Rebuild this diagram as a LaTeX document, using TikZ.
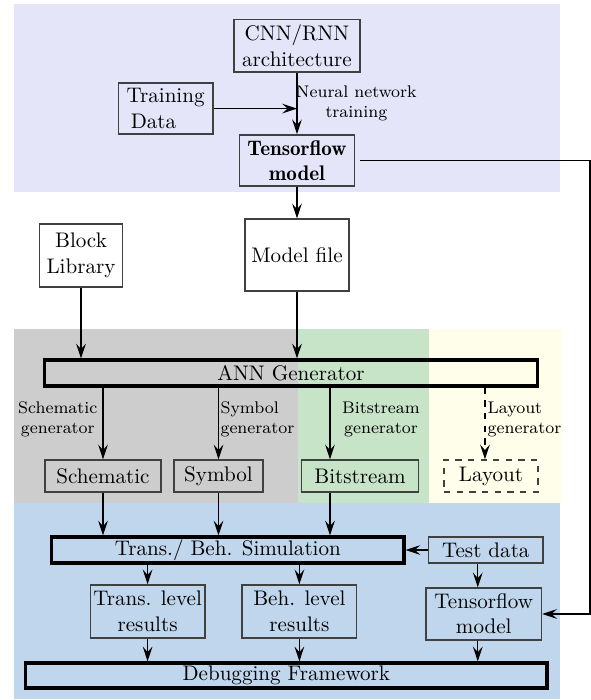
\documentclass[tikz,border=0pt]{standalone}
\usepackage{amsmath, amssymb}
\usepackage{tikz}
\usetikzlibrary{arrows.meta}

\definecolor{toplavender}{RGB}{229,229,250}
\definecolor{gengray}{RGB}{205,205,205}
\definecolor{bitgreen}{RGB}{200,228,200}
\definecolor{layyellow}{RGB}{254,254,234}
\definecolor{simblue}{RGB}{192,214,236}

\tikzset{
    box/.style={draw=black!75, line width=0.6pt, align=center, inner sep=1pt},
    thickbox/.style={draw=black, line width=1.5pt, inner sep=0pt},
    glabel/.style={font=\footnotesize, inner sep=0pt},
    flow/.style={-{Stealth[length=7pt,width=4.6pt,inset=2.6pt]}, line width=0.6pt},
}

\begin{document}
\begin{tikzpicture}
                \useasboundingbox (0,0) rectangle (9.85,-11.667);

                % Background regions
                \fill[toplavender] (0.233,-0.067) rectangle (9.333,-3.2);
                \fill[gengray] (0.233,-5.483) rectangle (4.967,-8.383);
                \fill[bitgreen] (4.967,-5.483) rectangle (7.15,-8.383);
                \fill[layyellow] (7.15,-5.483) rectangle (9.367,-8.383);
                \fill[simblue] (0.233,-8.383) rectangle (9.333,-11.65);

                % Training
                \node[box, minimum width=2.1cm, minimum height=0.88cm] (cnn) at (4.95, -0.76) {CNN/RNN\\architecture};
                \node[box, align=left, minimum width=1.58cm, minimum height=0.85cm] (data) at (2.76, -1.81) {Training\\\hspace{2pt}Data};
                \node[box, font=\fontseries{b}\selectfont, line width=0.8pt, minimum width=1.92cm, minimum height=0.85cm] (tf) at (4.95, -2.675) {Tensorflow\\model};
                \node[glabel, align=center] (nntrain) at (5.94, -1.717) {Neural network\\training};

                \draw[flow] (cnn) -- (tf);
                \draw[flow] (data.east) -- (data.east -| tf.north);

                % Inputs of the generator
                \node[box, minimum width=1.375cm, minimum height=1.05cm] (lib) at (1.35, -4.258) {Block\\Library};
                \node[box, minimum width=1.733cm, minimum height=1.2cm] (mfile) at (4.95, -4.25) {Model file};
                \node[thickbox, minimum width=8.225cm, minimum height=0.433cm] (ann) at (4.85, -6.217) {ANN Generator};

                \draw[flow] (tf) -- (mfile);
                \draw[flow] (lib.south) -- (lib.south |- ann.north);
                \draw[flow] (mfile.south) -- (mfile.south |- ann.north);

                % Generated views
                \node[box, minimum width=1.933cm, minimum height=0.533cm] (sch) at (1.717, -7.933) {Schematic};
                \node[box, minimum width=1.483cm, minimum height=0.533cm] (sym) at (3.642, -7.933) {Symbol};
                \node[box, minimum width=1.942cm, minimum height=0.533cm] (bit) at (6.0, -7.933) {Bitstream};
                \node[box, dashed, minimum width=1.567cm, minimum height=0.533cm] (lay) at (8.183, -7.933) {Layout};

                \node[glabel, align=center] (schgen) at (0.963, -6.99) {Schematic\\generator};
                \node[glabel, align=left] (symgen) at (4.29, -6.99) {Symbol\\generator};
                \node[glabel, align=center] (bitgen) at (6.35, -6.99) {Bitstream\\generator};
                \node[glabel, align=left] (laygen) at (8.742, -6.99) {Layout\\generator};

                \draw[flow] (sch.north |- ann.south) -- (sch.north);
                \draw[flow] (sym.north |- ann.south) -- (sym.north);
                \draw[flow] ([xshift=-5mm]bit.north |- ann.south) -- ([xshift=-5mm]bit.north);
                \draw[flow, dashed] ([xshift=-1mm]lay.north |- ann.south) -- ([xshift=-1mm]lay.north);

                % Simulation and debugging
                \node[thickbox, minimum width=5.873cm, minimum height=0.433cm] (sim) at (3.797, -9.167) {Trans./ Beh. Simulation};
                \node[box, minimum width=1.907cm, minimum height=0.433cm] (test) at (8.097, -9.167) {Test data};
                \node[box, minimum width=1.91cm, minimum height=0.883cm] (trans) at (2.46, -10.19) {Trans. level\\results};
                \node[box, minimum width=1.91cm, minimum height=0.883cm] (beh) at (4.99, -10.19) {Beh. level\\results};
                \node[box, minimum width=1.927cm, minimum height=0.867cm] (tfm) at (8.063, -10.233) {Tensorflow\\model};
                \node[thickbox, minimum width=8.69cm, minimum height=0.417cm] (dbg) at (4.772, -11.258) {Debugging Framework};

                \draw[flow] (sch.south) -- (sch.south |- sim.north);
                \draw[flow] (sym.south) -- (sym.south |- sim.north);
                \draw[flow] ([xshift=-5mm]bit.south) -- ([xshift=-5mm]bit.south |- sim.north);
                \draw[flow] (test.west) -- (sim.east);
                \draw[flow] (trans.north |- sim.south) -- (trans.north);
                \draw[flow] (beh.north |- sim.south) -- (beh.north);
                \draw[flow] ([xshift=-1mm]tfm.north |- test.south) -- ([xshift=-1mm]tfm.north);
                \draw[flow] (trans.south) -- (trans.south |- dbg.north);
                \draw[flow] (beh.south) -- (beh.south |- dbg.north);
                \draw[flow] ([xshift=-1mm]tfm.south) -- ([xshift=-1mm]tfm.south |- dbg.north);

                % Trained model handed over to the debugger
                \coordinate (rim) at (9.833, 0);
                \draw[flow] ([xshift=0.8mm]tf.east) -| (rim |- tfm.east) -- (tfm.east);
            \end{tikzpicture}
\end{document}
